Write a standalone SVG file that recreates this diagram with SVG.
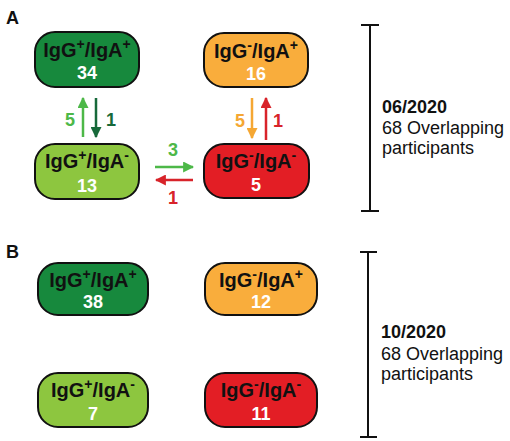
<svg xmlns="http://www.w3.org/2000/svg" width="510" height="441" viewBox="0 0 510 441">
<style>
.box{stroke:#111;stroke-width:2}
.dg{fill:#17893D}.lg{fill:#8DC63F}.or{fill:#F9AD3C}.rd{fill:#E31E25}
.t{font-family:"Liberation Sans",Arial,sans-serif;font-weight:bold;font-size:20px;fill:#111;text-anchor:middle}
.p{font-family:"Liberation Sans",Arial,sans-serif;font-weight:bold;font-size:18px;fill:#111}
.n{font-family:"Liberation Sans",Arial,sans-serif;font-weight:bold;font-size:18px;fill:#fff;text-anchor:middle}
.sup{font-size:14px}
.lbl{font-family:"Liberation Sans",Arial,sans-serif;font-weight:bold;font-size:18px;text-anchor:middle}
.side{font-family:"Liberation Sans",Arial,sans-serif;font-size:18px;fill:#111}
.bar{stroke:#111;stroke-width:2;fill:none}
.arr{stroke-width:2.5;fill:none}
</style>
<defs>
<marker id="hMg" viewBox="0 0 10 10" refX="9" refY="5" markerWidth="11" markerHeight="11" markerUnits="userSpaceOnUse" orient="auto"><path d="M0,0 L10,5 L0,10 z" fill="#4DB848"/></marker>
<marker id="hDg" viewBox="0 0 10 10" refX="9" refY="5" markerWidth="11" markerHeight="11" markerUnits="userSpaceOnUse" orient="auto"><path d="M0,0 L10,5 L0,10 z" fill="#17693A"/></marker>
<marker id="hOr" viewBox="0 0 10 10" refX="9" refY="5" markerWidth="11" markerHeight="11" markerUnits="userSpaceOnUse" orient="auto"><path d="M0,0 L10,5 L0,10 z" fill="#F5A733"/></marker>
<marker id="hRd" viewBox="0 0 10 10" refX="9" refY="5" markerWidth="11" markerHeight="11" markerUnits="userSpaceOnUse" orient="auto"><path d="M0,0 L10,5 L0,10 z" fill="#D8232A"/></marker>
</defs>
<rect width="510" height="441" fill="#fff"/>

<text x="6" y="24" class="p">A</text>
<text x="6" y="258" class="p">B</text>

<!-- Panel A nodes -->
<g id="a-pp">
<rect class="box dg" x="35" y="32" width="104" height="55" rx="20"/>
<text class="t" x="87" y="57">IgG<tspan class="sup" dy="-8">+</tspan><tspan dy="8">/IgA</tspan><tspan class="sup" dy="-8">+</tspan></text>
<text class="n" x="87" y="79">34</text>
</g>
<g id="a-np">
<rect class="box or" x="204" y="33" width="104" height="54" rx="20"/>
<text class="t" x="256" y="58">IgG<tspan class="sup" dy="-8">-</tspan><tspan dy="8">/IgA</tspan><tspan class="sup" dy="-8">+</tspan></text>
<text class="n" x="256" y="80">16</text>
</g>
<g id="a-pn">
<rect class="box lg" x="35" y="144" width="104" height="55" rx="20"/>
<text class="t" x="87" y="168">IgG<tspan class="sup" dy="-8">+</tspan><tspan dy="8">/IgA</tspan><tspan class="sup" dy="-8">-</tspan></text>
<text class="n" x="87" y="192">13</text>
</g>
<g id="a-nn">
<rect class="box rd" x="204" y="144" width="105" height="54" rx="20"/>
<text class="t" x="256" y="168">IgG<tspan class="sup" dy="-8">-</tspan><tspan dy="8">/IgA</tspan><tspan class="sup" dy="-8">-</tspan></text>
<text class="n" x="256" y="191">5</text>
</g>

<!-- Panel A connectors -->
<g id="connectors">
<line class="arr" x1="83" y1="137" x2="83" y2="98" stroke="#4DB848" marker-end="url(#hMg)"/>
<line class="arr" x1="96" y1="98" x2="96" y2="137" stroke="#17693A" marker-end="url(#hDg)"/>
<line class="arr" x1="155" y1="167" x2="193" y2="167" stroke="#4DB848" marker-end="url(#hMg)"/>
<line class="arr" x1="193" y1="180" x2="156" y2="180" stroke="#D8232A" marker-end="url(#hRd)"/>
<line class="arr" x1="252" y1="98" x2="252" y2="138" stroke="#F5A733" marker-end="url(#hOr)"/>
<line class="arr" x1="266" y1="140" x2="266" y2="98" stroke="#D8232A" marker-end="url(#hRd)"/>
<text class="lbl" x="70" y="126" fill="#4DB848">5</text>
<text class="lbl" x="111" y="126" fill="#17693A">1</text>
<text class="lbl" x="173" y="156" fill="#4DB848">3</text>
<text class="lbl" x="173" y="204" fill="#D8232A">1</text>
<text class="lbl" x="240" y="127" fill="#F5A733">5</text>
<text class="lbl" x="278" y="127" fill="#D8232A">1</text>
</g>

<!-- Panel A scale bar -->
<g id="a-bar">
<path class="bar" d="M370,25 V211 M361,25 H379 M361,211 H379"/>
<text class="side" x="382" y="113" font-weight="bold">06/2020</text>
<text class="side" x="382" y="134">68 Overlapping</text>
<text class="side" x="382" y="154">participants</text>
</g>

<!-- Panel B nodes -->
<g id="b-pp">
<rect class="box dg" x="38" y="263" width="110" height="52" rx="20"/>
<text class="t" x="93" y="287">IgG<tspan class="sup" dy="-8">+</tspan><tspan dy="8">/IgA</tspan><tspan class="sup" dy="-8">+</tspan></text>
<text class="n" x="93" y="308">38</text>
</g>
<g id="b-np">
<rect class="box or" x="205" y="263" width="112" height="52" rx="20"/>
<text class="t" x="261" y="287">IgG<tspan class="sup" dy="-8">-</tspan><tspan dy="8">/IgA</tspan><tspan class="sup" dy="-8">+</tspan></text>
<text class="n" x="261" y="308">12</text>
</g>
<g id="b-pn">
<rect class="box lg" x="38" y="373" width="110" height="54" rx="20"/>
<text class="t" x="93" y="397">IgG<tspan class="sup" dy="-8">+</tspan><tspan dy="8">/IgA</tspan><tspan class="sup" dy="-8">-</tspan></text>
<text class="n" x="93" y="420">7</text>
</g>
<g id="b-nn">
<rect class="box rd" x="205" y="373" width="112" height="54" rx="20"/>
<text class="t" x="261" y="397">IgG<tspan class="sup" dy="-8">-</tspan><tspan dy="8">/IgA</tspan><tspan class="sup" dy="-8">-</tspan></text>
<text class="n" x="261" y="420">11</text>
</g>

<!-- Panel B scale bar -->
<g id="b-bar">
<path class="bar" d="M368,252 V437 M360,252 H377 M360,437 H377"/>
<text class="side" x="381" y="338" font-weight="bold">10/2020</text>
<text class="side" x="381" y="360">68 Overlapping</text>
<text class="side" x="381" y="380">participants</text>
</g>
</svg>
